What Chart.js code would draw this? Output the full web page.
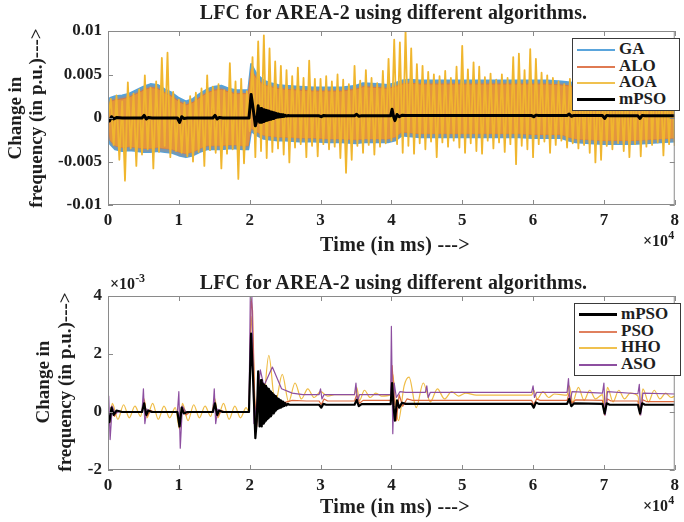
<!DOCTYPE html>
<html>
<head>
<meta charset="utf-8">
<script src="https://cdn.jsdelivr.net/npm/chart.js@4.4.1/dist/chart.umd.min.js"></script>
<style>
  html, body { margin: 0; padding: 0; background: #fff; }
  #wrap { position: relative; width: 684px; height: 522px; overflow: hidden; font-family: 'Liberation Serif', 'DejaVu Serif', serif; color: #1e1e1e; }
  canvas { position: absolute; left: 0; }
  .txt { position: absolute; font-weight: bold; white-space: nowrap; }
  .title { font-size: 20px; text-align: center; letter-spacing: 0.2px; }
  .xlab { font-size: 20px; letter-spacing: 0.3px; }
  .mult { font-size: 16px; }
  .mult sup { font-size: 12px; position: relative; top: -1px; }
  .ylab { font-size: 19px; width: 240px; text-align: center; transform: rotate(-90deg); transform-origin: 50% 50%; }
  .legend { position: absolute; border: 1px solid #3a3a3a; background: #fff; font-size: 17px; font-weight: bold; }
  .legend div { height: 16.5px; line-height: 16.5px; position: relative; padding-left: 46px; }
  .legend span { position: absolute; left: 4px; top: 8px; width: 38px; height: 0; border-top-style: solid; }
</style>
</head>
<body>
<div id="wrap">
  <canvas id="topChart" width="684" height="260" style="top:0"></canvas>
  <canvas id="botChart" width="684" height="262" style="top:260px"></canvas>

  <div class="txt title" style="left:0;top:1px;width:787px">LFC for AREA-2 using different algorithms.</div>
  <div class="txt xlab" style="left:320px;top:233px">Time (in ms) ---&gt;</div>
  <div class="txt mult" style="left:643px;top:229px">×10<sup>4</sup></div>
  <div class="txt ylab" style="left:-95px;top:97px;line-height:21px">Change in<br>frequency (in p.u.)---&gt;</div>
  <div class="legend" style="left:572px;top:38px;width:106px;height:69px;padding-top:2px">
    <div><span style="border-color:#5aa5dc;border-top-width:2px"></span>GA</div>
    <div><span style="border-color:#df7a52;border-top-width:2px"></span>ALO</div>
    <div><span style="border-color:#f0c14f;border-top-width:2px"></span>AOA</div>
    <div><span style="border-color:#000;border-top-width:3px;top:7px"></span>mPSO</div>
  </div>

  <div class="txt title" style="left:0;top:271px;width:787px">LFC for AREA-2 using different algorithms.</div>
  <div class="txt mult" style="left:110px;top:272px">×10<sup>-3</sup></div>
  <div class="txt xlab" style="left:320px;top:495px">Time (in ms) ---&gt;</div>
  <div class="txt mult" style="left:643px;top:494px">×10<sup>4</sup></div>
  <div class="txt ylab" style="left:-66px;top:360px;line-height:22px">Change in<br>frequency (in p.u.)---&gt;</div>
  <div class="legend" style="left:574px;top:303px;width:105px;height:69px;padding-top:2px">
    <div><span style="border-color:#000;border-top-width:3px;top:7px"></span>mPSO</div>
    <div><span style="border-color:#e0805e;border-top-width:2px"></span>PSO</div>
    <div><span style="border-color:#f0c14f;border-top-width:2px"></span>HHO</div>
    <div><span style="border-color:#8d4fa0;border-top-width:2px"></span>ASO</div>
  </div>
</div>

<script>
// time in units of 10^4 ms, values in 10^-3 p.u.

// ---- top panel: GA / ALO envelopes ----
const bandTime = [0, 0.03, 0.1, 0.2, 0.3, 0.4, 0.5, 0.6, 0.7, 0.8, 0.9, 1.0, 1.1, 1.2, 1.3, 1.4, 1.5, 1.6, 1.7, 1.8, 1.9, 1.98,
  2.02, 2.1, 2.2, 2.3, 2.4, 2.5, 2.7, 2.9, 3.1, 3.3, 3.5, 3.6, 3.8, 3.95, 4.05, 4.15, 4.25, 4.4, 4.6, 4.8, 5.0, 5.2, 5.4,
  5.6, 5.8, 6.0, 6.2, 6.4, 6.5, 6.6, 6.8, 7.0, 7.2, 7.4, 7.6, 7.8, 8.0];
const gaUpper = [0.5, 2.3, 2.5, 2.6, 2.8, 3.2, 3.6, 3.9, 3.8, 3.3, 2.9, 2.3, 1.9, 2.2, 2.8, 3.3, 3.6, 3.7, 3.4, 3.2, 3.2, 3.2,
  6.2, 5.0, 4.3, 4.0, 3.8, 3.7, 3.6, 3.5, 3.5, 3.5, 3.7, 4.0, 3.9, 3.8, 4.0, 4.3, 4.4, 4.3, 4.3, 4.3, 4.3, 4.3, 4.3,
  4.3, 4.3, 4.3, 4.3, 4.2, 4.1, 4.0, 4.0, 4.0, 4.0, 4.0, 3.9, 3.7, 3.6];
const gaLower = [-0.5, -3.0, -3.6, -3.8, -3.7, -3.8, -3.9, -3.9, -3.8, -3.9, -4.0, -4.3, -4.5, -4.3, -3.9, -3.6, -3.6, -3.6, -3.5, -3.5, -3.6, -3.6,
  -1.5, -2.0, -2.4, -2.5, -2.6, -2.6, -2.7, -2.7, -2.8, -2.8, -2.9, -2.8, -2.8, -2.8, -2.6, -2.0, -2.1, -2.2, -2.2, -2.2, -2.2, -2.2, -2.2,
  -2.2, -2.2, -2.3, -2.3, -2.3, -2.6, -2.8, -2.9, -3.0, -3.0, -3.0, -2.9, -2.8, -2.7];
const aloUpper = [0.3, 1.9, 2.1, 2.2, 2.4, 2.8, 3.2, 3.5, 3.4, 2.9, 2.5, 1.9, 1.5, 1.8, 2.4, 2.9, 3.2, 3.3, 3.0, 2.8, 2.8, 2.8,
  5.6, 4.5, 3.8, 3.6, 3.4, 3.3, 3.2, 3.1, 3.1, 3.1, 3.3, 3.6, 3.5, 3.4, 3.6, 3.9, 4.0, 3.9, 3.9, 3.9, 3.9, 3.9, 3.9,
  3.9, 3.9, 3.9, 3.9, 3.8, 3.7, 3.6, 3.6, 3.6, 3.6, 3.6, 3.5, 3.3, 3.2];
const aloLower = [-0.3, -2.6, -3.2, -3.4, -3.3, -3.4, -3.5, -3.5, -3.4, -3.5, -3.6, -3.9, -4.1, -3.9, -3.5, -3.2, -3.2, -3.2, -3.1, -3.1, -3.2, -3.2,
  -1.2, -1.6, -2.0, -2.1, -2.2, -2.2, -2.3, -2.3, -2.4, -2.4, -2.5, -2.4, -2.4, -2.4, -2.2, -1.6, -1.7, -1.8, -1.8, -1.8, -1.8, -1.8, -1.8,
  -1.8, -1.8, -1.9, -1.9, -1.9, -2.2, -2.4, -2.5, -2.6, -2.6, -2.6, -2.5, -2.4, -2.3];

// ---- top panel: AOA, one sample every 0.04 (x10^4 ms) ----
const aoaStep = 0.04;
const aoaVals = [
  0, 2.2, -3.1, 2.6, -4.8, 1.9, -7.2, 4.1, -3.5, 2.8, -5.5, 3.3, -4.2, 4.9, -3.6, 3.5, -5.8, 4.2, -3.9, 6.9, -3.2, 7.5, -4.5, 3.0, -3.8,
  2.1, -4.0, 1.8, -4.4, 2.5, -5.0, 2.9, -3.9, 3.4, -5.5, 4.9, -3.7, 3.6, -4.0, 3.9, -5.8, 3.2, -4.1, 6.3, -3.6, 4.2, -7.0, 4.5, -5.2, 3.1,
  -1.5, 7.0, -4.5, 8.8, -3.8, 9.5, -4.6, 8.0, -3.9, 6.5, -3.5, 6.0, -4.2, 5.5, -5.1, 4.8, -3.4, 5.8, -3.0, 4.6, -4.5, 6.6, -3.2, 4.5, -4.4,
  4.5, -3.0, 4.8, -3.6, 4.2, -3.3, 5.0, -4.6, 4.4, -6.3, 3.9, -4.8, 6.0, -3.2, 4.3, -4.0, 5.5, -3.1, 4.6, -4.2, 4.0, -3.3, 5.4, -2.9, 6.8,
  -2.6, 9.0, -3.0, 8.7, -4.0, 10.1, -3.2, 8.0, -4.1, 6.2, -2.9, 6.0, -3.6, 5.3, -2.7, 5.0, -4.5, 4.8, -2.8, 5.4, -3.3, 4.6, -2.6, 5.9, -3.4,
  8.3, -4.0, 5.6, -2.9, 6.4, -3.8, 5.9, -4.1, 4.7, -2.6, 5.1, -3.5, 4.4, -2.8, 5.0, -3.9, 4.6, -3.0, 7.0, -5.3, 7.4, -3.2, 5.5, -3.6, 7.9,
  -4.5, 6.8, -3.0, 5.2, -2.7, 4.9, -4.0, 4.6, -3.1, 4.2, -2.6, 3.9, -3.4, 4.5, -2.9, 4.0, -3.5, 4.4, -3.1, 5.0, -4.0, 6.6, -5.1, 4.3, -4.8,
  5.0, -3.2, 4.6, -3.6, 5.1, -2.9, 4.2, -3.8, 4.4, -4.5, 3.9, -3.0, 5.8, -4.4, 4.1, -3.3, 7.9, -3.1, 5.0, -2.8, 4.6, -4.3, 4.0, -3.0, 4.9,
  -3.2
];

// ---- mPSO (used in both panels) ----
const mpsoTime = [0, 0.02, 0.05, 0.08, 0.12, 0.2, 0.48, 0.51, 0.54, 0.57, 0.62, 0.98, 1.01, 1.04, 1.07, 1.12, 1.48, 1.51, 1.54, 1.57, 1.62,
  1.99, 2.02, 2.05, 2.08, 2.1, 2.12, 2.14, 2.16,
  2.17, 2.18, 2.19, 2.2, 2.21, 2.22, 2.23, 2.24, 2.25, 2.26, 2.27, 2.28, 2.29, 2.3, 2.31, 2.32, 2.33, 2.34, 2.35, 2.36,
  2.37, 2.38, 2.39, 2.4, 2.41, 2.42, 2.43, 2.44, 2.45, 2.46, 2.47, 2.48, 2.49, 2.5, 2.52, 2.54, 2.56,
  2.6, 2.7, 2.98, 3.01, 3.04, 3.08, 3.48, 3.51, 3.54, 3.58, 3.99, 4.01, 4.03, 4.05, 4.08, 4.11, 4.15, 4.2,
  5.98, 6.01, 6.04, 6.08, 6.48, 6.51, 6.54, 6.58, 6.98, 7.01, 7.04, 7.08, 7.48, 7.51, 7.54, 7.58, 8];
const mpsoVals = [-0.1, -0.35, 0.15, -0.1, 0.05, 0, 0, 0.3, -0.1, 0.05, 0, 0, -0.5, 0.15, -0.05, 0, 0, 0.3, -0.1, 0.05, 0,
  0, 2.7, 1.0, -0.9, -0.3, 1.4, -0.5, 1.1,
  -0.5, 1.0, -0.4, 0.95, -0.35, 0.9, -0.3, 0.85, -0.25, 0.8, -0.2, 0.75, -0.15, 0.7, -0.1, 0.65, -0.05, 0.6, 0.0, 0.55,
  0.05, 0.5, 0.1, 0.45, 0.12, 0.42, 0.15, 0.4, 0.17, 0.36, 0.19, 0.33, 0.21, 0.31, 0.23, 0.28, 0.25,
  0.25, 0.25, 0.25, 0.15, 0.28, 0.25, 0.25, 0.42, 0.2, 0.27, 0.27, 1.0, 0.2, -0.3, 0.4, 0.15, 0.32, 0.28,
  0.28, 0.15, 0.33, 0.28, 0.28, 0.45, 0.2, 0.3, 0.28, -0.05, 0.3, 0.25, 0.25, -0.05, 0.3, 0.25, 0.25];

// ---- bottom panel: PSO ----
const psoTime = [0, 0.02, 0.05, 0.09, 0.14, 0.2, 0.48, 0.51, 0.55, 0.6, 0.66, 0.98, 1.01, 1.05, 1.1, 1.16, 1.48, 1.51, 1.55, 1.6, 1.66,
  1.99, 2.02, 2.04, 2.07, 2.1, 2.13, 2.17, 2.22, 2.28, 2.35, 2.45, 2.6, 2.8, 2.98, 3.01, 3.05, 3.1, 3.48, 3.51, 3.55, 3.6,
  3.99, 4.01, 4.04, 4.07, 4.11, 4.16, 4.22, 4.3, 5.98, 6.01, 6.05, 6.1, 6.48, 6.51, 6.55, 6.6, 6.98, 7.01, 7.05, 7.1,
  7.48, 7.51, 7.55, 7.6, 8];
const psoVals = [0, -0.45, 0.2, -0.15, 0.05, 0, 0, 0.4, -0.15, 0.05, 0, 0, -0.55, 0.2, -0.1, 0, 0, 0.35, -0.15, 0.05, 0,
  0, 3.9, 3.5, 0.5, -0.5, 1.3, -0.2, 0.8, 0.1, 0.6, 0.3, 0.4, 0.38, 0.38, 0.25, 0.45, 0.38, 0.38, 0.6, 0.3, 0.4,
  0.4, 1.6, 0.5, -0.3, 0.6, 0.2, 0.45, 0.4, 0.4, 0.25, 0.45, 0.4, 0.4, 0.65, 0.3, 0.42, 0.4, -0.1, 0.45, 0.38,
  0.38, -0.1, 0.42, 0.36, 0.36];

// ---- bottom panel: HHO ----
const hhoTime = [0, 0.02, 0.06, 0.14, 0.22, 0.3, 0.38, 0.46, 0.51, 0.55, 0.63, 0.71, 0.79, 0.87, 0.95, 1.01, 1.05, 1.13, 1.21, 1.29,
  1.37, 1.45, 1.51, 1.55, 1.63, 1.71, 1.79, 1.87, 1.95, 1.99, 2.02, 2.05, 2.09, 2.14, 2.18, 2.27, 2.36, 2.46, 2.55, 2.64,
  2.73, 2.82, 2.91, 3.0, 3.1, 3.2, 3.48, 3.51, 3.55, 3.62, 3.7, 3.78, 3.86, 3.99, 4.02, 4.06, 4.1, 4.18, 4.25, 4.35,
  4.45, 4.55, 4.65, 4.75, 4.85, 4.95, 5.05, 5.2, 5.98, 6.01, 6.06, 6.14, 6.22, 6.3, 6.48, 6.51, 6.56, 6.64, 6.72, 6.8,
  6.88, 6.98, 7.01, 7.05, 7.13, 7.21, 7.29, 7.37, 7.48, 7.51, 7.55, 7.63, 7.71, 7.79, 7.87, 7.95, 8];
const hhoVals = [0, -0.4, 0.3, -0.25, 0.25, -0.2, 0.2, -0.15, 0.45, -0.2, 0.3, -0.25, 0.2, -0.2, 0.15, -0.6, 0.3, -0.3, 0.25, -0.2,
  0.2, -0.15, 0.45, -0.2, 0.3, -0.25, 0.2, -0.2, 0.15, 0, 3.3, 2.0, -0.45, 0.6, 0.1, 1.95, 0.3, 1.3, 0.35, 1.0,
  0.45, 0.8, 0.5, 0.7, 0.55, 0.6, 0.6, 0.85, 0.4, 0.75, 0.5, 0.65, 0.55, 0.6, 1.3, 0.2, -0.3, 0.9, 1.2, 0.15,
  1.0, 0.35, 0.8, 0.45, 0.7, 0.55, 0.65, 0.58, 0.58, 0.75, 0.45, 0.7, 0.5, 0.62, 0.58, 0.9, 0.35, 0.85, 0.4, 0.75,
  0.45, 0.6, 0.1, 0.85, 0.35, 0.75, 0.45, 0.65, 0.55, 0.05, 0.8, 0.35, 0.75, 0.45, 0.65, 0.5, 0.55];

// ---- bottom panel: ASO ----
const asoTime = [0, 0.01, 0.03, 0.06, 0.1, 0.15, 0.48, 0.5, 0.52, 0.55, 0.6, 0.98, 1.0, 1.02, 1.05, 1.1, 1.48, 1.5, 1.52, 1.55, 1.6,
  1.99, 2.01, 2.03, 2.06, 2.1, 2.15, 2.2, 2.32, 2.45, 2.6, 2.75, 2.98, 3.0, 3.02, 3.05, 3.48, 3.5, 3.52, 3.55,
  3.99, 4.0, 4.02, 4.04, 4.07, 4.12, 4.2, 4.48, 4.5, 4.52, 4.55, 5.98, 6.0, 6.02, 6.05, 6.48, 6.5, 6.52, 6.55,
  6.98, 7.0, 7.02, 7.05, 7.48, 7.5, 7.52, 7.55, 8];
const asoVals = [0, 0.55, -0.95, 0.2, -0.05, 0, 0, 0.8, -0.4, 0.1, 0, 0, 0.7, -1.25, 0.2, 0, 0, 0.8, -0.4, 0.1, 0,
  0, 4.3, 4.1, -0.4, 0.3, 1.45, 0.9, 1.55, 0.8, 0.65, 0.6, 0.6, 0.8, 0.45, 0.6, 0.6, 1.0, 0.35, 0.6,
  0.6, 2.95, -0.75, 1.0, 0.5, 0.7, 0.68, 0.68, 0.9, 0.5, 0.68, 0.68, 0.9, 0.5, 0.68, 0.68, 1.15, 0.3, 0.7,
  0.65, 1.0, -0.1, 0.7, 0.63, 0.95, -0.1, 0.65, 0.62];

const xTicks = [0, 1, 2, 3, 4, 5, 6, 7, 8];
const topYTicks = [-10, -5, 0, 5, 10];
const topYLabels = ['-0.01', '-0.005', '0', '0.005', '0.01'];
const botYTicks = [-2, 0, 2, 4];

function pts(ts, vs) { return vs.map((v, i) => ({ x: ts[i], y: v })); }

const tickFont = { family: "'Liberation Serif', serif", size: 17, weight: 'bold' };

// matlab style box with inward ticks
const boxPlugin = {
    id: 'matlabBox',
    afterDatasetsDraw(chart) {
        const { ctx, chartArea: a, scales } = chart;
        ctx.save();
        ctx.strokeStyle = '#8a8a8a';
        ctx.lineWidth = 1;
        ctx.strokeRect(a.left + 0.5, a.top + 0.5, a.right - a.left - 1, a.bottom - a.top - 1);
        ctx.beginPath();
        scales.x.ticks.forEach(t => {
            const px = Math.round(scales.x.getPixelForValue(t.value)) + 0.5;
            ctx.moveTo(px, a.bottom); ctx.lineTo(px, a.bottom - 5);
            ctx.moveTo(px, a.top); ctx.lineTo(px, a.top + 5);
        });
        scales.y.ticks.forEach(t => {
            const py = Math.round(scales.y.getPixelForValue(t.value)) + 0.5;
            ctx.moveTo(a.left, py); ctx.lineTo(a.left + 5, py);
            ctx.moveTo(a.right, py); ctx.lineTo(a.right - 5, py);
        });
        ctx.stroke();
        ctx.restore();
    }
};

function baseOptions(yMin, yMax, yTicks, yLabel, padTop, xHeight) {
    return {
        responsive: false,
        animation: false,
        devicePixelRatio: 1,
        layout: { padding: { left: 48, right: 5, top: padTop, bottom: 0 } },
        plugins: { legend: { display: false }, tooltip: { enabled: false } },
        elements: { point: { radius: 0 }, line: { borderJoinStyle: 'round' } },
        scales: {
            x: {
                type: 'linear', min: 0, max: 8,
                afterFit: s => { s.height = xHeight; },
                afterBuildTicks: s => { s.ticks = xTicks.map(v => ({ value: v })); },
                ticks: { padding: 5, color: '#1e1e1e', font: tickFont, maxRotation: 0, callback: v => String(v) },
                grid: { display: false, drawTicks: false },
                border: { display: false }
            },
            y: {
                type: 'linear', min: yMin, max: yMax,
                afterFit: s => { s.width = 60; },
                afterBuildTicks: s => { s.ticks = yTicks.map(v => ({ value: v })); },
                ticks: { padding: 6, color: '#1e1e1e', font: tickFont, callback: yLabel },
                grid: { display: false, drawTicks: false },
                border: { display: false }
            }
        }
    };
}

// top panel: first dataset is drawn on top
new Chart(document.getElementById('topChart'), {
    type: 'line',
    data: {
        datasets: [
            { data: pts(mpsoTime, mpsoVals), borderColor: '#000', borderWidth: 3, fill: false },
            { data: aoaVals.map((v, i) => ({ x: i * aoaStep, y: v })), borderColor: '#f0b62e', borderWidth: 1.8, fill: false },
            { data: pts(bandTime, aloUpper), borderColor: '#d87a45', borderWidth: 1, fill: '+1', backgroundColor: '#e3953e' },
            { data: pts(bandTime, aloLower), borderColor: '#d87a45', borderWidth: 1, fill: false },
            { data: pts(bandTime, gaUpper), borderColor: '#56a2da', borderWidth: 2, fill: '+1', backgroundColor: '#7a97b0' },
            { data: pts(bandTime, gaLower), borderColor: '#56a2da', borderWidth: 2, fill: false }
        ]
    },
    options: baseOptions(-10, 10, topYTicks, v => topYLabels[topYTicks.indexOf(v)], 31, 55),
    plugins: [boxPlugin]
});

// bottom panel
new Chart(document.getElementById('botChart'), {
    type: 'line',
    data: {
        datasets: [
            { data: pts(mpsoTime, mpsoVals), borderColor: '#000', borderWidth: 2.2, fill: false },
            { data: pts(asoTime, asoVals), borderColor: '#8d4fa0', borderWidth: 1.2, fill: false },
            { data: pts(psoTime, psoVals), borderColor: '#dd6a3e', borderWidth: 1.2, fill: false },
            { data: pts(hhoTime, hhoVals), borderColor: '#efbc45', borderWidth: 1.2, fill: false, cubicInterpolationMode: 'monotone' }
        ]
    },
    options: baseOptions(-2, 4, botYTicks, v => String(v), 36, 52),
    plugins: [boxPlugin]
});
</script>
</body>
</html>
